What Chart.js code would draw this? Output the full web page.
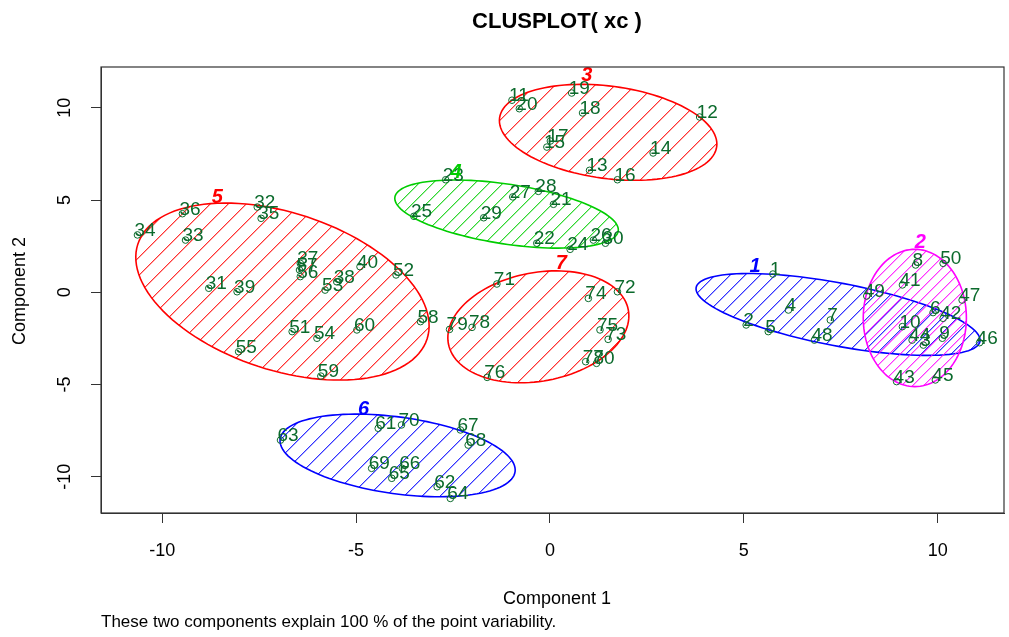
<!DOCTYPE html>
<html lang="en">
<head>
    <meta charset="UTF-8">
    <title>CLUSPLOT( xc )</title>
    <script src="https://cdn.jsdelivr.net/npm/chart.js"></script>
    <style>
        html, body { margin: 0; padding: 0; background: #fff; }
        #wrap { width: 1009px; height: 637px; }
    </style>
</head>
<body>
    <div id="wrap"><canvas id="clusplot"></canvas></div>

    <script>
        // point coordinates (component 1 / component 2)
        const pointIds = [1, 2, 3, 4, 5, 6, 7, 8, 9, 10,
            11, 12, 13, 14, 15, 16, 17, 18, 19, 20,
            21, 22, 23, 24, 25, 26, 27, 28, 29, 30,
            31, 32, 33, 34, 35, 36, 37, 38, 39, 40,
            41, 42, 43, 44, 45, 46, 47, 48, 49, 50,
            51, 52, 53, 54, 55, 56, 57, 58, 59, 60,
            61, 62, 63, 64, 65, 66, 67, 68, 69, 70,
            71, 72, 73, 74, 75, 76, 77, 78, 79, 80];
        const pointX = [5.75, 5.06, 9.63, 6.15, 5.63, 9.88, 7.23, 9.43, 10.12, 9.09,
            -0.98, 3.86, 1.02, 2.66, -0.08, 1.74, 0.01, 0.84, 0.56, -0.79,
            0.09, -0.34, -2.69, 0.52, -3.51, 1.12, -0.96, -0.30, -1.71, 1.43,
            -8.80, -7.55, -9.40, -10.64, -7.45, -9.48, -6.44, -5.50, -8.07, -4.90,
            9.09, 10.14, 8.94, 9.34, 9.94, 11.08, 10.63, 6.82, 8.17, 10.14,
            -6.65, -3.97, -5.80, -6.01, -8.03, -6.44, -6.46, -3.34, -5.91, -4.98,
            -4.43, -2.91, -6.95, -2.57, -4.08, -3.81, -2.31, -2.11, -4.60, -3.83,
            -1.37, 1.74, 1.50, 0.99, 1.29, -1.62, 0.92, -2.01, -2.59, 1.20];
        const pointY = [0.99, -1.77, -2.86, -0.96, -2.13, -1.10, -1.50, 1.48, -2.49, -1.86,
            10.41, 9.50, 6.61, 7.55, 7.87, 6.10, 8.20, 9.72, 10.80, 9.95,
            4.77, 2.66, 6.10, 2.33, 4.12, 2.83, 5.17, 5.47, 4.04, 2.66,
            0.22, 4.62, 2.83, 3.11, 4.01, 4.26, 1.57, 0.57, 0.03, 1.39,
            0.40, -1.41, -4.84, -2.59, -4.75, -2.73, -0.42, -2.59, -0.20, 1.57,
            -2.13, 0.94, 0.12, -2.49, -3.22, 0.85, 1.21, -1.59, -4.54, -2.04,
            -7.37, -10.54, -8.01, -11.17, -10.08, -9.54, -7.46, -8.28, -9.54, -7.19,
            0.45, 0.03, -2.55, -0.33, -2.04, -4.61, -3.76, -1.90, -2.01, -3.85];

        // cluster ellipses: centre and the two half-axis vectors, in data units
        const clusterIds = [1, 2, 3, 4, 5, 6, 7];
        const clusterCx = [7.43, 9.41, 1.50, -1.12, -6.90, -3.93, -0.30];
        const clusterCy = [-1.20, -1.39, 8.67, 4.24, 0.04, -8.84, -1.87];
        const axisAx = [3.66, 1.33, 2.80, 2.88, 3.73, 3.03, 2.32];
        const axisAy = [-1.46, 0.00, -0.78, -0.92, -2.57, -0.88, 0.92];
        const axisBx = [-0.15, 0.00, -0.16, -0.12, -0.63, -0.13, 0.26];
        const axisBy = [-1.67, 3.72, -2.48, -1.60, -4.05, -2.06, -2.89];
        const clusterLabelX = [5.29, 9.55, 0.95, -2.42, -8.58, -4.81, 0.29];
        const clusterLabelY = [1.39, 2.69, 11.76, 6.52, 5.16, -6.34, 1.57];

        const xTicks = [-10, -5, 0, 5, 10];
        const yTicks = [-10, -5, 0, 5, 10];

        // styles
        const clusterColors = ['#0000ff', '#ff00ff', '#ff0000', '#00cd00', '#ff0000', '#0000ff', '#ff0000'];
        const hatchGap = [15, 11, 20, 14, 18, 18, 20];
        const pointColor = '#0b6a2c';
        const fontFamily = 'Arial, "Liberation Sans", sans-serif';

        // ellipse outline in pixels, through the chart scales
        function ellipsePath(ctx, chart, i) {
            const xs = chart.scales.x, ys = chart.scales.y;
            ctx.beginPath();
            for (let k = 0; k <= 120; k++) {
                const t = k / 120 * Math.PI * 2;
                const vx = clusterCx[i] + axisAx[i] * Math.cos(t) + axisBx[i] * Math.sin(t);
                const vy = clusterCy[i] + axisAy[i] * Math.cos(t) + axisBy[i] * Math.sin(t);
                const px = xs.getPixelForValue(vx), py = ys.getPixelForValue(vy);
                if (k === 0) ctx.moveTo(px, py); else ctx.lineTo(px, py);
            }
            ctx.closePath();
        }

        // "/" shading as a small repeating tile: a full pixel plus a soft one per row
        function hatchPattern(ctx, color, gap) {
            const tile = document.createElement('canvas');
            tile.width = gap;
            tile.height = gap;
            const tc = tile.getContext('2d');
            tc.fillStyle = color;
            for (let k = 0; k < gap; k++) {
                tc.globalAlpha = 0.8;
                tc.fillRect(k, gap - 1 - k, 1, 1);
                tc.globalAlpha = 0.35;
                tc.fillRect((k + 1) % gap, gap - 1 - k, 1, 1);
            }
            return ctx.createPattern(tile, 'repeat');
        }

        const clusplotPlugin = {
            id: 'clusplot',
            beforeDatasetsDraw(chart) {
                const ctx = chart.ctx, area = chart.chartArea;
                ctx.save();
                ctx.beginPath();
                ctx.rect(area.left, area.top, area.right - area.left, area.bottom - area.top);
                ctx.clip();
                clusterIds.forEach((id, i) => {
                    ellipsePath(ctx, chart, i);
                    ctx.fillStyle = hatchPattern(ctx, clusterColors[i], hatchGap[i]);
                    ctx.fill();
                    ctx.strokeStyle = clusterColors[i];
                    ctx.lineWidth = 1.6;
                    ctx.stroke();
                });
                ctx.restore();
            },
            afterDatasetsDraw(chart) {
                const ctx = chart.ctx;
                const meta = chart.getDatasetMeta(0);
                ctx.save();
                ctx.font = '19px ' + fontFamily;
                ctx.fillStyle = pointColor;
                ctx.textAlign = 'left';
                ctx.textBaseline = 'alphabetic';
                meta.data.forEach((pt, i) => {
                    ctx.fillText(String(pointIds[i]), pt.x - 3, pt.y + 1);
                });
                // cluster numbers
                ctx.font = 'italic bold 20px ' + fontFamily;
                ctx.textAlign = 'center';
                ctx.textBaseline = 'middle';
                clusterIds.forEach((id, i) => {
                    ctx.fillStyle = clusterColors[i];
                    ctx.fillText(String(id), chart.scales.x.getPixelForValue(clusterLabelX[i]),
                        chart.scales.y.getPixelForValue(clusterLabelY[i]));
                });
                ctx.restore();
            },
            afterDraw(chart) {
                const ctx = chart.ctx, area = chart.chartArea;
                ctx.save();
                // box
                ctx.strokeStyle = '#333';
                ctx.lineWidth = 1.2;
                ctx.strokeRect(area.left, area.top, area.right - area.left, area.bottom - area.top);
                // y tick labels, rotated like R
                ctx.fillStyle = '#000';
                ctx.font = '18px ' + fontFamily;
                ctx.textAlign = 'center';
                ctx.textBaseline = 'middle';
                chart.scales.y.ticks.forEach(t => {
                    ctx.save();
                    ctx.translate(65, chart.scales.y.getPixelForValue(t.value));
                    ctx.rotate(-Math.PI / 2);
                    ctx.fillText(String(t.value), 0, 0);
                    ctx.restore();
                });
                // titles
                ctx.font = 'bold 22px ' + fontFamily;
                ctx.fillText('CLUSPLOT( xc )', 557, 22);
                ctx.font = '18px ' + fontFamily;
                ctx.fillText('Component 1', 557, 599);
                ctx.save();
                ctx.translate(20, 291);
                ctx.rotate(-Math.PI / 2);
                ctx.fillText('Component 2', 0, 0);
                ctx.restore();
                ctx.textAlign = 'left';
                ctx.font = '17px ' + fontFamily;
                ctx.fillText('These two components explain 100 % of the point variability.', 101, 622);
                ctx.restore();
            }
        };

        const points = pointX.map((x, i) => ({ x: x, y: pointY[i] }));

        new Chart(document.getElementById('clusplot'), {
            type: 'scatter',
            data: {
                datasets: [{
                    data: points,
                    pointStyle: 'circle',
                    pointRadius: 3.3,
                    borderWidth: 1,
                    borderColor: pointColor,
                    backgroundColor: 'rgba(0,0,0,0)'
                }]
            },
            options: {
                responsive: true,
                maintainAspectRatio: false,
                animation: false,
                events: [],
                layout: { padding: { top: 67, right: 2, left: 0, bottom: 0 } },
                plugins: { legend: { display: false }, title: { display: false }, tooltip: { enabled: false } },
                scales: {
                    x: {
                        type: 'linear',
                        min: -11.58,
                        max: 11.71,
                        afterFit: s => { s.height = 124; },
                        afterBuildTicks: s => { s.ticks = xTicks.map(v => ({ value: v })); },
                        grid: { drawOnChartArea: false, color: '#333', tickLength: 10, tickWidth: 1 },
                        border: { color: '#333' },
                        ticks: { color: '#000', font: { size: 18, family: fontFamily }, padding: 17, maxRotation: 0 }
                    },
                    y: {
                        type: 'linear',
                        min: -11.96,
                        max: 12.21,
                        afterFit: s => { s.width = 101; },
                        afterBuildTicks: s => { s.ticks = yTicks.map(v => ({ value: v })); },
                        grid: { drawOnChartArea: false, color: '#333', tickLength: 10, tickWidth: 1 },
                        border: { color: '#333' },
                        ticks: { display: false }
                    }
                }
            },
            plugins: [clusplotPlugin]
        });
    </script>
</body>
</html>
